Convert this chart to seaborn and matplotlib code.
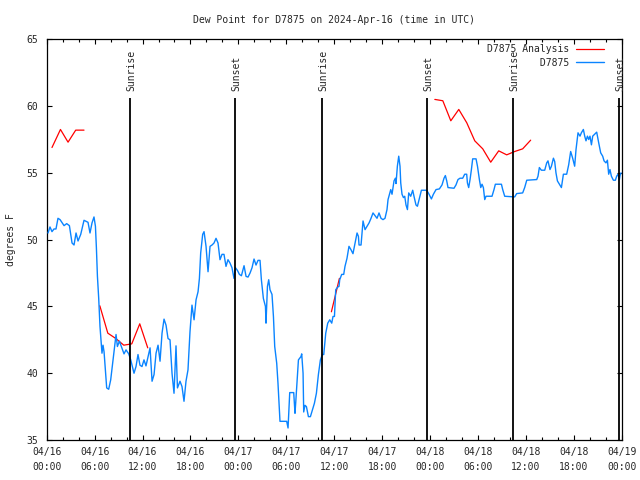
import seaborn as sns
import matplotlib.pyplot as plt
import pandas as pd
import numpy as np

# station D7875, hours since 04/16 00:00 UTC
obs_hours = [0.16, 0.41, 0.66, 0.91, 1.16, 1.41, 1.67, 2.17, 2.50, 2.84, 3.17, 3.42, 3.67, 3.92, 4.26, 4.67,
             5.17, 5.42, 5.67, 5.92, 6.10, 6.22, 6.35, 6.51, 6.67, 6.92, 7.05, 7.18, 7.35, 7.51, 7.76, 8.01,
             8.26, 8.51, 8.68, 8.85, 9.10, 9.35, 9.68, 9.93, 10.27, 10.52, 10.68, 10.93, 11.18, 11.43, 11.68,
             11.93, 12.18, 12.43, 12.68, 12.94, 13.19, 13.44, 13.69, 13.94, 14.19, 14.44, 14.69, 14.94, 15.19,
             15.44, 15.69, 15.94, 16.19, 16.37, 16.69, 16.94, 17.19, 17.44, 17.69, 17.94, 18.19, 18.45, 18.70,
             18.95, 19.12, 19.28, 19.53, 19.70, 19.95, 20.20, 20.45, 20.70, 20.95, 21.20, 21.45, 21.70, 21.95,
             22.20, 22.45, 22.70, 22.95, 23.20, 23.45, 23.63, 23.88, 24.13, 24.38, 24.71, 24.96, 25.21, 25.46,
             25.71, 25.96, 26.21, 26.46, 26.71, 26.88, 27.13, 27.39, 27.46, 27.64, 27.80, 27.96, 28.21, 28.39,
             28.55, 28.80, 28.96, 29.21, 29.71, 30.05, 30.22, 30.43, 30.93, 31.09, 31.18, 31.52, 31.84, 31.93,
             32.10, 32.18, 32.34, 32.52, 32.77, 33.02, 33.27, 33.52, 33.77, 34.02, 34.27, 34.52, 34.69, 34.94,
             35.19, 35.44, 35.69, 35.85, 36.03, 36.19, 36.44, 36.60, 36.69, 36.94, 37.19, 37.35, 37.60, 37.85,
             38.10, 38.35, 38.61, 38.86, 39.03, 39.11, 39.36, 39.61, 39.86, 40.11, 40.36, 40.61, 40.86, 41.11,
             41.36, 41.61, 41.86, 42.11, 42.36, 42.61, 42.74, 43.08, 43.24, 43.49, 43.66, 43.74, 43.91, 44.08,
             44.24, 44.33, 44.49, 44.67, 44.83, 44.99, 45.17, 45.33, 45.58, 45.83, 45.99, 46.24, 46.42, 46.67,
             46.92, 47.58, 47.83, 48.17, 48.42, 48.75, 49.17, 49.50, 49.75, 49.92, 50.09, 50.25, 51.00, 51.25,
             51.50, 51.75, 52.09, 52.34, 52.59, 52.68, 52.84, 53.01, 53.18, 53.34, 53.76, 53.94, 54.18, 54.35,
             54.51, 54.68, 54.85, 55.01, 55.76, 56.01, 56.18, 56.94, 57.10, 57.35, 58.60, 58.85, 59.60, 59.85,
             60.11, 61.36, 61.52, 61.69, 61.94, 62.36, 62.61, 62.77, 63.02, 63.20, 63.45, 63.61, 63.77, 63.95,
             64.20, 64.45, 64.70, 65.11, 65.36, 65.61, 65.86, 66.11, 66.28, 66.53, 66.78, 66.95, 67.20, 67.37,
             67.53, 67.71, 67.87, 68.03, 68.21, 68.37, 68.62, 68.87, 69.12, 69.37, 69.62, 69.79, 70.03, 70.21,
             70.37, 70.53, 70.71, 70.96, 71.21, 71.37, 71.54, 71.71, 71.79, 71.92]
obs_dewpt = [50.5, 50.95, 50.6, 50.8, 50.8, 51.6, 51.5, 51.05, 51.2, 51.05, 49.75, 49.6, 50.5, 49.9, 50.4, 51.45,
             51.3, 50.5, 51.25, 51.7, 51.0, 49.4, 47.25, 45.6, 43.5, 41.5, 42.1, 41.6, 40.25, 38.9, 38.8, 39.5,
             40.75, 42.0, 42.9, 42.0, 42.4, 42.0, 41.45, 41.75, 41.45, 41.0, 40.6, 40.0, 40.5, 41.4, 40.6,
             40.5, 41.0, 40.55, 41.2, 41.9, 39.4, 39.9, 41.5, 42.1, 40.9, 43.0, 44.05, 43.6, 42.6,
             42.5, 40.0, 38.5, 42.05, 38.9, 39.4, 39.0, 37.9, 39.4, 40.25, 43.1, 45.1, 44.0, 45.5,
             46.1, 47.1, 49.0, 50.4, 50.6, 49.5, 47.6, 49.5, 49.6, 49.75, 50.1, 49.75, 48.5, 48.9,
             48.9, 48.0, 48.5, 48.25, 47.9, 47.1, 47.9, 47.7, 47.4, 47.3, 48.05, 47.25, 47.2, 47.5,
             47.9, 48.55, 48.1, 48.45, 48.45, 47.0, 45.6, 45.0, 43.75, 46.5, 47.0, 46.25, 45.9, 44.25,
             42.0, 40.75, 39.25, 36.4, 36.4, 36.4, 35.9, 38.55, 38.55, 37.0, 37.8, 41.0, 41.25, 41.45,
             40.0, 37.1, 37.6, 37.5, 36.75, 36.75, 37.25, 37.75, 38.5, 39.9, 41.0, 41.4, 41.4, 43.0,
             43.75, 44.0, 43.75, 44.25, 44.25, 46.25, 46.45, 46.5, 47.0, 47.4, 47.4, 48.0, 48.6, 49.5,
             49.25, 48.95, 49.75, 50.5, 50.25, 49.6, 49.6, 51.4, 50.75, 51.0, 51.25, 51.6, 52.0, 51.8,
             51.6, 52.0, 51.6, 51.5, 51.6, 52.25, 53.0, 53.75, 53.4, 54.4, 54.6, 54.2, 55.5, 56.25,
             55.5, 54.25, 53.4, 53.15, 53.25, 52.6, 52.25, 53.5, 53.25, 53.7, 53.25, 52.6, 52.5, 53.1,
             53.7, 53.7, 53.45, 53.05, 53.4, 53.75, 53.8, 54.1, 54.6, 54.8, 54.4, 53.9, 53.85, 54.1,
             54.5, 54.6, 54.6, 54.9, 54.9, 54.25, 53.9, 54.5, 55.25, 56.05, 56.05, 55.5, 54.5, 53.9,
             54.15, 53.9, 53.0, 53.25, 53.25, 53.75, 54.15, 54.15, 53.75, 53.25, 53.2, 53.45, 53.5, 53.9,
             54.45, 54.5, 54.75, 55.4, 55.2, 55.2, 55.75, 55.9, 55.25, 55.5, 56.1, 55.85, 55.0, 54.4,
             54.15, 53.9, 54.9, 54.9, 55.6, 56.6, 56.1, 55.5, 56.75, 58.0, 57.75, 58.0, 58.25, 57.75,
             57.4, 57.75, 57.5, 57.75, 57.1, 57.75, 57.9, 58.05, 57.25, 56.5, 56.25, 55.9, 55.75, 55.95,
             54.9, 55.25, 54.75, 54.45, 54.45, 54.75, 54.9, 54.5, 54.8, 55.0]

# analysis, in separate pieces
ana_seg = [1] * 5 + [2] * 7 + [3] * 2 + [4] * 13
ana_hours = [0.66, 1.72, 2.67, 3.63, 4.67,
             6.65, 7.65, 8.65, 9.65, 10.65, 11.65, 12.65,
             35.65, 36.65,
             48.6, 49.6, 50.6, 51.6, 52.6, 53.6, 54.6, 55.6, 56.6, 57.6, 58.6, 59.6, 60.6]
ana_dewpt = [56.9, 58.25, 57.3, 58.2, 58.2,
             45.05, 43.0, 42.6, 42.1, 42.2, 43.7, 41.9,
             44.6, 47.1,
             60.5, 60.4, 58.9, 59.75, 58.75, 57.4, 56.8, 55.8, 56.65, 56.35, 56.6, 56.8, 57.45]

sun_hours = [10.43, 23.6, 34.48, 47.62, 58.4, 71.63]
sun_labels = ['Sunrise', 'Sunset', 'Sunrise', 'Sunset', 'Sunrise', 'Sunset']

tick_hours = list(range(0, 73, 6))
tick_labels = ['04/16\n00:00', '04/16\n06:00', '04/16\n12:00', '04/16\n18:00',
               '04/17\n00:00', '04/17\n06:00', '04/17\n12:00', '04/17\n18:00',
               '04/18\n00:00', '04/18\n06:00', '04/18\n12:00', '04/18\n18:00',
               '04/19\n00:00']

obs = pd.DataFrame({'hour': obs_hours, 'dewpt': obs_dewpt})
ana = pd.DataFrame({'seg': ana_seg, 'hour': ana_hours, 'dewpt': ana_dewpt})

sns.set_style('ticks')
plt.rcParams['font.family'] = ['DejaVu Sans Mono']
plt.rcParams['font.size'] = 7

fig = plt.figure(figsize=(6.4, 4.8), dpi=100)
ax = fig.add_axes([0.073, 0.0833, 0.8984, 0.8348])

for s, part in ana.groupby('seg'):
    sns.lineplot(data=part, x='hour', y='dewpt', estimator=None, color='#ff0000',
                 linewidth=0.9, ax=ax, zorder=2)
red_line = ax.lines[0]
sns.lineplot(data=obs, x='hour', y='dewpt', estimator=None, color='#0a84ff',
             linewidth=1.0, ax=ax, zorder=3)
blue_line = ax.lines[-1]

ax.vlines(sun_hours, 35, 60.6, color='black', linewidth=1.3, zorder=4)
for h, lab in zip(sun_hours, sun_labels):
    ax.text(h + 0.15, 61.1, lab, rotation=90, ha='center', va='bottom', fontsize=7)

ax.set_xlim(0, 72)
ax.set_ylim(35, 65)
ax.set_xticks(tick_hours)
ax.set_xticklabels(tick_labels, linespacing=1.6)
ax.set_xticks(range(0, 73, 2), minor=True)
ax.set_yticks(range(35, 66, 5))
ax.tick_params(which='both', direction='in', top=True, right=True, width=0.8, color='black')
ax.tick_params(which='major', length=3.4)
ax.tick_params(which='minor', length=2)
ax.tick_params(axis='x', pad=5)
ax.tick_params(axis='y', pad=6)
for sp in ax.spines.values():
    sp.set_visible(True)
    sp.set_linewidth(0.9)
    sp.set_color('black')

ax.set_xlabel('')
ax.set_ylabel('degrees F', labelpad=8)
ax.set_title('Dew Point for D7875 on 2024-Apr-16 (time in UTC)', fontsize=7, pad=12)

ax.legend([red_line, blue_line], ['D7875 Analysis', '         D7875'],
          loc='upper right', bbox_to_anchor=(0.978, 1.0), markerfirst=False,
          frameon=False, fontsize=7, handlelength=2.9, handletextpad=0.7,
          borderaxespad=0.1, labelspacing=0.35)

plt.savefig('out.png', dpi=100)
